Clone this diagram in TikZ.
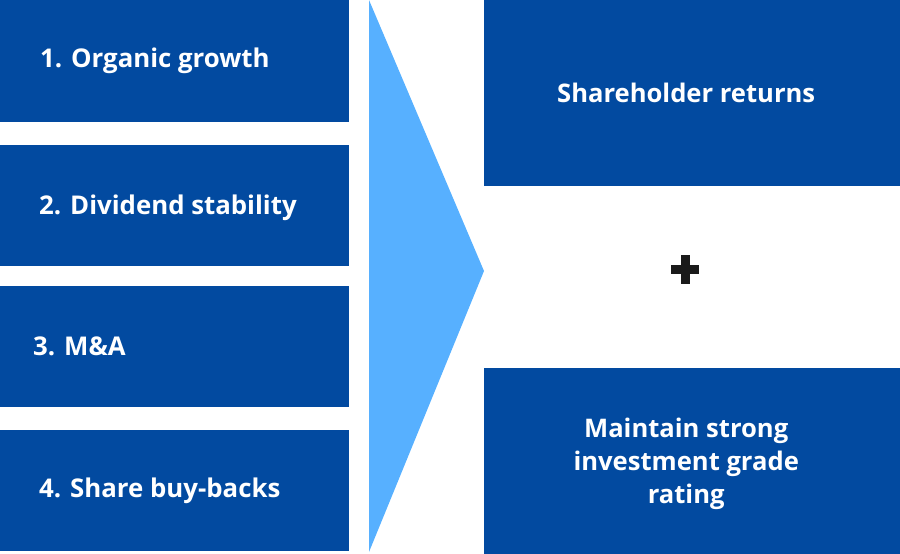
\documentclass[tikz,border=0pt]{standalone}
\usepackage{fontspec}
\setmainfont{Open Sans}
\definecolor{darkblue}{RGB}{2,74,160}
\definecolor{lightblue}{RGB}{87,176,255}
\definecolor{plusgrey}{RGB}{26,26,26}
\begin{document}
\begin{tikzpicture}[x=1pt,y=-1pt,
    block/.style={rectangle,fill=darkblue,inner sep=0pt,anchor=north west},
    label/.style={anchor=west,text=white,inner sep=0pt,font=\fontsize{25.8}{32}\selectfont\bfseries},
    biglabel/.style={text=white,inner sep=0pt,align=center,font=\fontsize{25.6}{33}\selectfont\bfseries}]

       \useasboundingbox (0,0) rectangle (900,554);

       \node[block,minimum width=349,minimum height=122] (b1) at (0,0) {};
       \node[block,minimum width=349,minimum height=121] (b2) at (0,145) {};
       \node[block,minimum width=349,minimum height=121] (b3) at (0,286) {};
       \node[block,minimum width=349,minimum height=121] (b4) at (0,430) {};

       \node[label] (t1) at ([xshift=40]b1.west) {1. Organic growth};
       \node[label] (t2) at ([xshift=39,yshift=-2]b2.west) {2. Dividend stability};
       \node[label] (t3) at ([xshift=33]b3.west) {3. M\&A};
       \node[label] (t4) at ([xshift=39]b4.west) {4. Share buy-backs};

       \fill[lightblue] (369,0) -- (484,271) -- (369,552) -- cycle;

       \node[block,minimum width=416,minimum height=186] (r1) at (484,0) {};
       \node[block,minimum width=416,minimum height=186] (r2) at (484,368) {};

       \node[biglabel] (s1) at ([xshift=-6]r1.center) {Shareholder returns};
       \node[biglabel] (s2) at ([xshift=-6,yshift=-3]r2.center) {Maintain strong\\investment grade\\rating};

       \coordinate (plus) at (685,269);
       \draw[plusgrey,line width=9] ([xshift=-14]plus) -- ([xshift=14]plus);
       \draw[plusgrey,line width=9] ([yshift=-14.5]plus) -- ([yshift=14.5]plus);
     \end{tikzpicture}
\end{document}
